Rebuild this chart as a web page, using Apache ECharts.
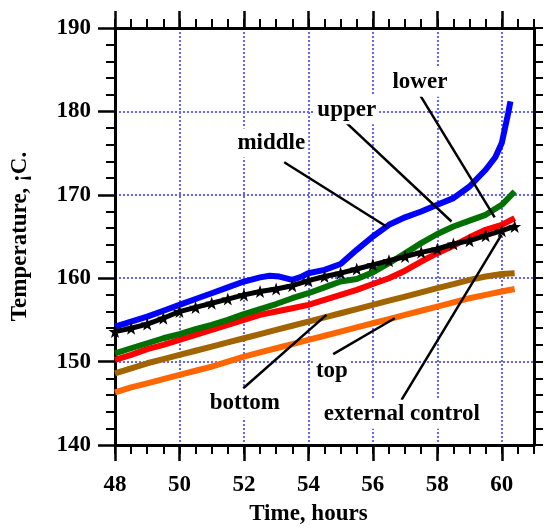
<!DOCTYPE html>
<html>
<head>
<meta charset="utf-8">
<script src="https://cdn.jsdelivr.net/npm/echarts@6/dist/echarts.min.js"></script>
<style>
html,body{margin:0;padding:0;background:#fff;}
#chart{width:549px;height:531px;}
</style>
</head>
<body>
<div id="chart"></div>
<script>
// ---- data ----
const hours = [48,48.5,49,49.5,50,50.5,51,51.5,52,52.5,53,53.5,54,54.5,55,55.5,56,56.5,57,57.5,58,58.5,59,59.5,60,60.4];
const middleHours = [48,48.5,49,49.5,50,50.5,51,51.5,52,52.5,52.8,53.1,53.5,53.8,54,54.5,55,55.5,56,56.5,57,57.5,58,58.5,59,59.5,59.8,60,60.1,60.2,60.27];
const middleTemp = [154.2,154.8,155.4,156.1,156.8,157.5,158.2,158.9,159.6,160.1,160.3,160.2,159.8,160.2,160.6,161.0,161.7,163.4,165.0,166.4,167.3,168.0,168.8,169.6,171.0,173.0,174.5,176.2,178.0,179.8,181.2];
const upperTemp = [151.0,151.6,152.2,152.8,153.3,153.9,154.4,155.0,155.7,156.3,156.9,157.6,158.2,158.9,159.6,159.9,160.7,161.8,163.0,164.2,165.3,166.2,166.9,167.6,168.8,170.4];
const lowerTemp = [150.2,150.8,151.5,152.0,152.6,153.2,153.8,154.4,155.0,155.6,156.0,156.4,156.8,157.4,158.0,158.6,159.3,160.0,160.9,162.0,163.0,163.9,164.9,165.8,166.4,167.2];
const controlTemp = [153.6,154.0,154.5,155.2,156.0,156.5,157.0,157.5,158.0,158.4,158.7,159.1,159.7,160.2,160.6,161.1,161.6,162.1,162.6,163.1,163.5,164.1,164.5,165.1,165.7,166.2];
const bottomTemp = [148.6,149.2,149.8,150.3,150.8,151.3,151.8,152.3,152.8,153.3,153.8,154.3,154.8,155.3,155.8,156.3,156.8,157.3,157.8,158.3,158.8,159.3,159.8,160.2,160.5,160.6];
const topTemp = [146.3,146.9,147.4,147.9,148.4,148.9,149.4,150.0,150.6,151.1,151.6,152.1,152.6,153.1,153.6,154.1,154.6,155.1,155.6,156.1,156.6,157.1,157.6,158.0,158.4,158.7];

const xTicks = [48,50,52,54,56,58,60];
const yTicks = [140,150,160,170,180,190];

const labelTexts = ['lower','upper','middle','bottom','top','external control'];
const labelAnchors = [[57.46,183.5],[55.19,180.2],[52.85,176.2],[52.03,145.0],[54.73,148.9],[56.9,143.7]];
const leaderLines = [
  [[57.46,181.97],[59.78,167.3]],
  [[55.13,178.8],[58.44,166.8]],
  [[53.25,173.9],[56.42,166.2]],
  [[51.98,146.8],[54.56,155.6]],
  [[54.77,150.9],[56.68,155.2]],
  [[56.89,145.4],[59.99,165.2]]
];

// ---- chart ----
const FONT = "'Times New Roman','Liberation Serif',serif";
const zip = (xs, ys) => xs.map((x, i) => [x, ys[i]]);
const gridLine = {show:true, lineStyle:{color:'#6464ff', width:2, type:[2,2]}};
const blackLine = {show:true, lineStyle:{color:'#000', width:3}};
const tickStyle = {color:'#000', width:2};
const STAR = 'path://M0,-10 L2.4,-3.2 L9.5,-3.1 L3.8,1.2 L5.9,8.1 L0,4 L-5.9,8.1 L-3.8,1.2 L-9.5,-3.1 L-2.4,-3.2 Z';

function lineSeries(name, data, color, width) {
  return {
    name, type:'line', data, xAxisIndex:0, yAxisIndex:0,
    showSymbol:false, symbol:'none', smooth:false,
    lineStyle:{color, width:width || 6}, itemStyle:{color}, z:3, animation:false
  };
}

const chart = echarts.init(document.getElementById('chart'), null, {renderer:'canvas'});
const option = {
  animation:false,
  backgroundColor:'#fff',
  grid:[
    {left:115, right:15, top:28, bottom:86},
    {left:115, right:47.2, top:28, bottom:86}
  ],
  xAxis:[
    {gridIndex:0, type:'value', position:'bottom', min:48, max:61, interval:0.5,
     axisLine:blackLine, axisTick:{show:true, inside:false, length:9, lineStyle:tickStyle},
     axisLabel:{show:false}, splitLine:{show:false}},
    {gridIndex:0, type:'value', position:'top', min:48, max:61, interval:0.5,
     axisLine:blackLine, axisTick:{show:true, inside:false, length:9, lineStyle:tickStyle},
     axisLabel:{show:false}, splitLine:{show:false}},
    {gridIndex:1, type:'value', position:'bottom', min:xTicks[0], max:xTicks[xTicks.length-1], interval:2,
     axisLine:{show:false}, axisTick:{show:true, length:17, lineStyle:{color:'#000', width:2.5}},
     axisLabel:{show:true, margin:30, color:'#000', fontFamily:FONT, fontWeight:'bold', fontSize:23},
     splitLine:gridLine,
     name:'Time, hours', nameLocation:'middle', nameGap:59,
     nameTextStyle:{color:'#000', fontFamily:FONT, fontWeight:'bold', fontSize:23}},
    {gridIndex:1, type:'value', position:'top', min:xTicks[0], max:xTicks[xTicks.length-1], interval:2,
     axisLine:{show:false}, axisTick:{show:true, length:17, lineStyle:{color:'#000', width:2.5}},
     axisLabel:{show:false}, splitLine:{show:false}}
  ],
  yAxis:[
    {gridIndex:0, type:'value', position:'left', min:yTicks[0], max:yTicks[yTicks.length-1], interval:10,
     axisLine:blackLine, axisTick:{show:true, length:17, lineStyle:{color:'#000', width:2.5}},
     minorTick:{show:true, splitNumber:5, length:9, lineStyle:tickStyle},
     axisLabel:{show:true, margin:24, color:'#000', fontFamily:FONT, fontWeight:'bold', fontSize:23},
     splitLine:gridLine,
     name:'Temperature, ¡C.', nameLocation:'middle', nameGap:83, nameRotate:90,
     nameTextStyle:{color:'#000', fontFamily:FONT, fontWeight:'bold', fontSize:23}},
    {gridIndex:0, type:'value', position:'right', min:140, max:190, interval:2,
     axisLine:blackLine, axisTick:{show:true, length:9, lineStyle:tickStyle},
     axisLabel:{show:false}, splitLine:{show:false}},
    {gridIndex:1, type:'value', min:140, max:190, show:false}
  ],
  series:[
    lineSeries('top', zip(hours, topTemp), '#ff6600'),
    lineSeries('bottom', zip(hours, bottomTemp), '#a26400'),
    lineSeries('lower', zip(hours, lowerTemp), '#ff0000'),
    lineSeries('upper', zip(hours, upperTemp), '#007000'),
    lineSeries('middle', zip(middleHours, middleTemp), '#0000ff'),
    Object.assign(lineSeries('external control', zip(hours, controlTemp), '#000', 5), {z:4}),
    {
      name:'external control markers', type:'scatter', data:zip(hours, controlTemp),
      xAxisIndex:0, yAxisIndex:0, symbol:STAR, symbolSize:13,
      itemStyle:{color:'#000', opacity:1}, z:4, silent:true, animation:false
    },
    {
      name:'leaders', type:'lines', coordinateSystem:'cartesian2d', xAxisIndex:0, yAxisIndex:0,
      data: leaderLines.map(c => ({coords:c})),
      lineStyle:{color:'#000', width:2.5, opacity:1, curveness:0},
      symbol:'none', z:6, silent:true, animation:false
    },
    {
      name:'labels', type:'scatter', xAxisIndex:0, yAxisIndex:0,
      data: labelAnchors.map((p, i) => ({value:p, name:labelTexts[i]})),
      symbolSize:0, z:7, silent:true, animation:false,
      itemStyle:{opacity:1},
      label:{show:true, position:'inside', formatter:p => p.name, opacity:1,
        color:'#000', fontFamily:FONT, fontWeight:'bold', fontSize:23,
        backgroundColor:'#fff', padding:[3,3]}
    }
  ]
};
chart.setOption(option);
</script>
</body>
</html>
